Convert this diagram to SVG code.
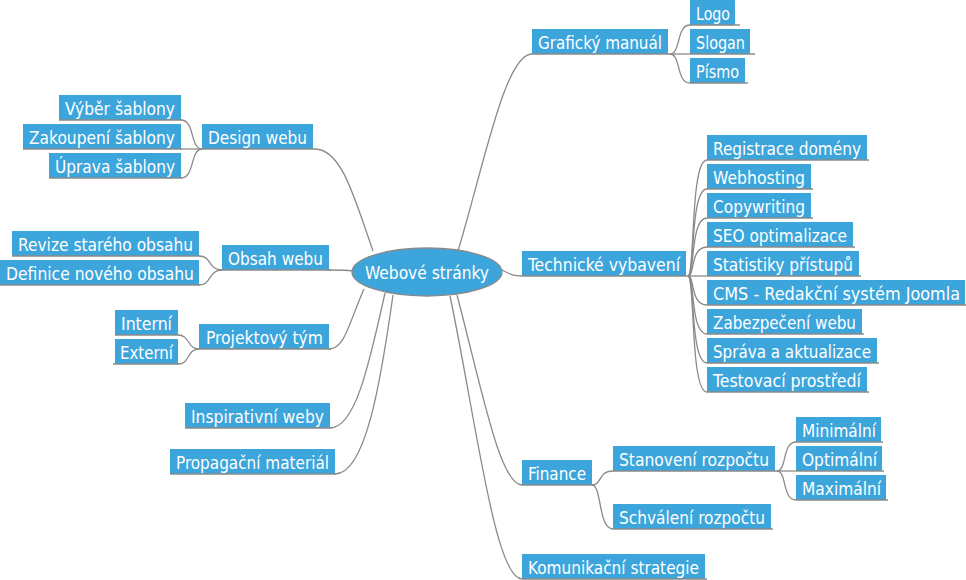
<svg xmlns="http://www.w3.org/2000/svg" width="966" height="580" viewBox="0 0 966 580">
<style>
.n rect{fill:#3ca5db}
.n line{stroke:#8a8a8a;stroke-width:1.3}
.n text,.t{fill:#fff;font-family:"DejaVu Sans Condensed","DejaVu Sans",Verdana,sans-serif;font-stretch:condensed;font-size:17.5px}
.c path{fill:none;stroke:#8a8a8a;stroke-width:1.3}
</style>
<rect width="966" height="580" fill="#fff"/>
<g class="c" id="connectors">
<path d="M458,251 C484,165 505,54 532,54"/>
<path d="M502,270 C510,274 512,276 522,276"/>
<path d="M457,295 C482,390 500,485 522,485"/>
<path d="M450,296 C476,420 495,579 522,579"/>
<path d="M373,251 C355,200 342,149 315,149"/>
<path d="M353,271 C345,270 340,270 329,270"/>
<path d="M364,289 C350,320 345,349 329,349"/>
<path d="M385,293 C370,360 356,428 330,428"/>
<path d="M393,295 C381,380 366,474 335,474"/>
<path d="M670,54 C681,54 676,25 690,25"/>
<path d="M670,54 L690,54"/>
<path d="M670,54 C681,54 676,83 690,83"/>
<path d="M688,276 C695,276 690,160 707,160"/>
<path d="M688,276 C695,276 690,189 707,189"/>
<path d="M688,276 C695,276 690,218 707,218"/>
<path d="M688,276 C695,276 690,247 707,247"/>
<path d="M688,276 L707,276"/>
<path d="M688,276 C695,276 690,305 707,305"/>
<path d="M688,276 C695,276 690,334 707,334"/>
<path d="M688,276 C695,276 690,363 707,363"/>
<path d="M688,276 C695,276 690,392 707,392"/>
<path d="M592,485 C602,485 598,471 613,471"/>
<path d="M592,485 C602,485 598,529 613,529"/>
<path d="M777,471 C787,471 782,442 796,442"/>
<path d="M777,471 L796,471"/>
<path d="M777,471 C787,471 782,500 796,500"/>
<path d="M181,120 C195,120 190,149 202,149"/>
<path d="M181,149 L202,149"/>
<path d="M181,178 C195,178 190,149 202,149"/>
<path d="M199,256 C212,256 208,270 222,270"/>
<path d="M199,285 C212,285 208,270 222,270"/>
<path d="M178,335 C190,335 187,349 199,349"/>
<path d="M178,364 C190,364 187,349 199,349"/>
</g>
<g id="center">
<ellipse cx="427" cy="272" rx="75" ry="24" fill="#3ca5db" stroke="#8a8a8a" stroke-width="1.3"/>
<text class="t" x="427" y="279" text-anchor="middle" textLength="124" lengthAdjust="spacingAndGlyphs">Webové stránky</text>
</g>
<g class="n" id="n-graficky"><rect x="532" y="29" width="136" height="25"/><line x1="532" y1="54" x2="672" y2="54"/><text x="538" y="49" textLength="124" lengthAdjust="spacingAndGlyphs">Grafický manuál</text></g>
<g class="n" id="n-logo"><rect x="690" y="0" width="45" height="25"/><line x1="690" y1="25" x2="740" y2="25"/><text x="696" y="20" textLength="34" lengthAdjust="spacingAndGlyphs">Logo</text></g>
<g class="n" id="n-slogan"><rect x="690" y="29" width="60" height="25"/><line x1="690" y1="54" x2="755" y2="54"/><text x="696" y="49" textLength="49" lengthAdjust="spacingAndGlyphs">Slogan</text></g>
<g class="n" id="n-pismo"><rect x="690" y="58" width="55" height="25"/><line x1="690" y1="83" x2="748" y2="83"/><text x="696" y="78" textLength="43" lengthAdjust="spacingAndGlyphs">Písmo</text></g>
<g class="n" id="n-technicke"><rect x="522" y="251" width="164" height="25"/><line x1="522" y1="276" x2="690" y2="276"/><text x="528" y="271" textLength="152" lengthAdjust="spacingAndGlyphs">Technické vybavení</text></g>
<g class="n" id="n-registrace"><rect x="707" y="135" width="160" height="25"/><line x1="707" y1="160" x2="869" y2="160"/><text x="713" y="155" textLength="148" lengthAdjust="spacingAndGlyphs">Registrace domény</text></g>
<g class="n" id="n-webhosting"><rect x="707" y="164" width="104" height="25"/><line x1="707" y1="189" x2="813" y2="189"/><text x="713" y="184" textLength="92" lengthAdjust="spacingAndGlyphs">Webhosting</text></g>
<g class="n" id="n-copywriting"><rect x="707" y="193" width="104" height="25"/><line x1="707" y1="218" x2="813" y2="218"/><text x="713" y="213" textLength="92" lengthAdjust="spacingAndGlyphs">Copywriting</text></g>
<g class="n" id="n-seo"><rect x="707" y="222" width="146" height="25"/><line x1="707" y1="247" x2="855" y2="247"/><text x="713" y="242" textLength="134" lengthAdjust="spacingAndGlyphs">SEO optimalizace</text></g>
<g class="n" id="n-statistiky"><rect x="707" y="251" width="152" height="25"/><line x1="707" y1="276" x2="861" y2="276"/><text x="713" y="271" textLength="140" lengthAdjust="spacingAndGlyphs">Statistiky přístupů</text></g>
<g class="n" id="n-cms"><rect x="707" y="280" width="258" height="25"/><line x1="707" y1="305" x2="966" y2="305"/><text x="713" y="300" textLength="247" lengthAdjust="spacingAndGlyphs">CMS - Redakční systém Joomla</text></g>
<g class="n" id="n-zabezpeceni"><rect x="707" y="309" width="155" height="25"/><line x1="707" y1="334" x2="864" y2="334"/><text x="713" y="329" textLength="143" lengthAdjust="spacingAndGlyphs">Zabezpečení webu</text></g>
<g class="n" id="n-sprava"><rect x="707" y="338" width="170" height="25"/><line x1="707" y1="363" x2="879" y2="363"/><text x="713" y="358" textLength="158" lengthAdjust="spacingAndGlyphs">Správa a aktualizace</text></g>
<g class="n" id="n-testovaci"><rect x="707" y="367" width="160" height="25"/><line x1="707" y1="392" x2="869" y2="392"/><text x="713" y="387" textLength="148" lengthAdjust="spacingAndGlyphs">Testovací prostředí</text></g>
<g class="n" id="n-finance"><rect x="522" y="460" width="70" height="25"/><line x1="522" y1="485" x2="594" y2="485"/><text x="528" y="480" textLength="58" lengthAdjust="spacingAndGlyphs">Finance</text></g>
<g class="n" id="n-stanoveni"><rect x="613" y="446" width="162" height="25"/><line x1="613" y1="471" x2="778" y2="471"/><text x="619" y="466" textLength="150" lengthAdjust="spacingAndGlyphs">Stanovení rozpočtu</text></g>
<g class="n" id="n-schvaleni"><rect x="613" y="504" width="158" height="25"/><line x1="613" y1="529" x2="773" y2="529"/><text x="619" y="524" textLength="146" lengthAdjust="spacingAndGlyphs">Schválení rozpočtu</text></g>
<g class="n" id="n-minimalni"><rect x="796" y="417" width="85" height="25"/><line x1="796" y1="442" x2="883" y2="442"/><text x="802" y="437" textLength="74" lengthAdjust="spacingAndGlyphs">Minimální</text></g>
<g class="n" id="n-optimalni"><rect x="796" y="446" width="86" height="25"/><line x1="796" y1="471" x2="884" y2="471"/><text x="802" y="466" textLength="75" lengthAdjust="spacingAndGlyphs">Optimální</text></g>
<g class="n" id="n-maximalni"><rect x="796" y="475" width="90" height="25"/><line x1="796" y1="500" x2="888" y2="500"/><text x="802" y="495" textLength="79" lengthAdjust="spacingAndGlyphs">Maximální</text></g>
<g class="n" id="n-komunikacni"><rect x="522" y="554" width="183" height="25"/><line x1="522" y1="579" x2="707" y2="579"/><text x="528" y="574" textLength="171" lengthAdjust="spacingAndGlyphs">Komunikační strategie</text></g>
<g class="n" id="n-design"><rect x="202" y="124" width="111" height="25"/><line x1="202" y1="149" x2="315" y2="149"/><text x="208" y="144" textLength="99" lengthAdjust="spacingAndGlyphs">Design webu</text></g>
<g class="n" id="n-vyber"><rect x="59" y="95" width="122" height="25"/><line x1="59" y1="120" x2="182" y2="120"/><text x="65" y="115" textLength="110" lengthAdjust="spacingAndGlyphs">Výběr šablony</text></g>
<g class="n" id="n-zakoupeni"><rect x="23" y="124" width="158" height="25"/><line x1="23" y1="149" x2="182" y2="149"/><text x="29" y="144" textLength="146" lengthAdjust="spacingAndGlyphs">Zakoupení šablony</text></g>
<g class="n" id="n-uprava"><rect x="49" y="153" width="132" height="25"/><line x1="49" y1="178" x2="182" y2="178"/><text x="55" y="173" textLength="120" lengthAdjust="spacingAndGlyphs">Úprava šablony</text></g>
<g class="n" id="n-obsah"><rect x="222" y="245" width="107" height="25"/><line x1="222" y1="270" x2="331" y2="270"/><text x="228" y="265" textLength="95" lengthAdjust="spacingAndGlyphs">Obsah webu</text></g>
<g class="n" id="n-revize"><rect x="12" y="231" width="187" height="25"/><line x1="12" y1="256" x2="200" y2="256"/><text x="18" y="251" textLength="175" lengthAdjust="spacingAndGlyphs">Revize starého obsahu</text></g>
<g class="n" id="n-definice"><rect x="0" y="260" width="199" height="25"/><line x1="0" y1="285" x2="200" y2="285"/><text x="6" y="280" textLength="188" lengthAdjust="spacingAndGlyphs">Definice nového obsahu</text></g>
<g class="n" id="n-projektovy"><rect x="199" y="324" width="130" height="25"/><line x1="199" y1="349" x2="331" y2="349"/><text x="206" y="344" textLength="117" lengthAdjust="spacingAndGlyphs">Projektový tým</text></g>
<g class="n" id="n-interni"><rect x="115" y="310" width="63" height="25"/><line x1="115" y1="335" x2="179" y2="335"/><text x="121" y="330" textLength="51" lengthAdjust="spacingAndGlyphs">Interní</text></g>
<g class="n" id="n-externi"><rect x="115" y="339" width="63" height="25"/><line x1="113" y1="364" x2="179" y2="364"/><text x="120" y="359" textLength="53" lengthAdjust="spacingAndGlyphs">Externí</text></g>
<g class="n" id="n-inspirativni"><rect x="185" y="403" width="145" height="25"/><line x1="185" y1="428" x2="331" y2="428"/><text x="191" y="423" textLength="133" lengthAdjust="spacingAndGlyphs">Inspirativní weby</text></g>
<g class="n" id="n-propagacni"><rect x="170" y="449" width="165" height="25"/><line x1="170" y1="474" x2="336" y2="474"/><text x="176" y="469" textLength="153" lengthAdjust="spacingAndGlyphs">Propagační materiál</text></g>
</svg>
